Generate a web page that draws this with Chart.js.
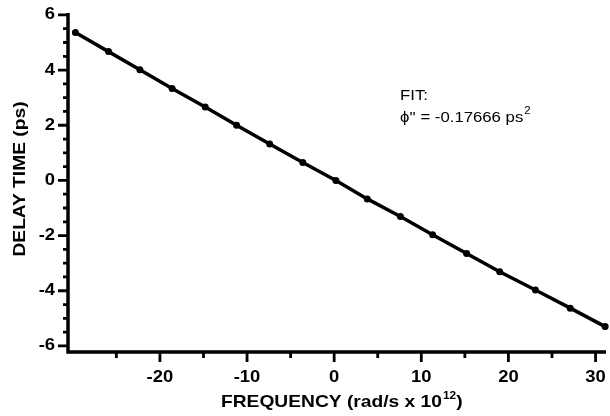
<!DOCTYPE html>
<html>
<head>
<meta charset="utf-8">
<script src="https://cdn.jsdelivr.net/npm/chart.js@4.4.1/dist/chart.umd.min.js"></script>
<style>
  html, body { margin: 0; padding: 0; background: #fff; }
  #wrap { width: 610px; height: 416px; }
</style>
</head>
<body>
<div id="wrap"><canvas id="chart" width="610" height="416"></canvas></div>
<script>
// data
const freq = [-29.7, -25.9, -22.3, -18.6, -14.8, -11.2, -7.4, -3.6, 0.2, 3.8, 7.6, 11.3, 15.2, 19.0, 23.1, 27.1, 31.1];
const delay = [5.36, 4.67, 4.01, 3.33, 2.66, 2.00, 1.32, 0.65, 0.00, -0.67, -1.31, -1.97, -2.65, -3.31, -3.97, -4.63, -5.30];

// ticks
const xMajor = [-20, -10, 0, 10, 20, 30];
const xMinor = [-25, -15, -5, 5, 15, 25];
const yMajor = [-6, -4, -2, 0, 2, 4, 6];
const yMinor = [-5.5, -5, -4.5, -3.5, -3, -2.5, -1.5, -1, -0.5, 0.5, 1, 1.5, 2.5, 3, 3.5, 4.5, 5, 5.5];

// texts
const xTitle = 'FREQUENCY (rad/s x 10';
const xTitleSup = '12';
const yTitle = 'DELAY TIME (ps)';
const fitLine1 = 'FIT:';
const fitLine2 = 'ϕ\'\' = -0.17666 ps';
const fitSup = '2';

const FONT = '"Liberation Sans", Arial, Helvetica, sans-serif';

// text drawn a bit wider, like the original typeset
function stretchText(ctx, txt, x, y, sx) {
    ctx.save();
    ctx.translate(x, y);
    ctx.scale(sx, 1);
    ctx.fillText(txt, 0, 0);
    ctx.restore();
    return ctx.measureText(txt).width * sx;
}

const axesPlugin = {
    id: 'axesPlugin',
    afterDraw(chart) {
        const ctx = chart.ctx;
        const area = chart.chartArea;
        const xs = chart.scales.x;
        const ys = chart.scales.y;
        ctx.save();
        ctx.strokeStyle = '#000';
        ctx.fillStyle = '#000';
        ctx.lineCap = 'butt';

        // axis lines
        ctx.lineWidth = 3.5;
        ctx.beginPath();
        ctx.moveTo(area.left, area.top);
        ctx.lineTo(area.left, area.bottom);
        ctx.lineTo(area.right, area.bottom);
        ctx.stroke();

        // ticks
        ctx.lineWidth = 2.8;
        ctx.beginPath();
        xMajor.forEach(v => { const p = xs.getPixelForValue(v); ctx.moveTo(p, area.bottom); ctx.lineTo(p, area.bottom + 10); });
        xMinor.forEach(v => { const p = xs.getPixelForValue(v); ctx.moveTo(p, area.bottom); ctx.lineTo(p, area.bottom + 6); });
        yMajor.forEach(v => { const p = ys.getPixelForValue(v); ctx.moveTo(area.left, p); ctx.lineTo(area.left - 10, p); });
        yMinor.forEach(v => { const p = ys.getPixelForValue(v); ctx.moveTo(area.left, p); ctx.lineTo(area.left - 5, p); });
        ctx.stroke();

        // tick labels
        ctx.font = 'bold 16px ' + FONT;
        ctx.textBaseline = 'middle';
        ctx.textAlign = 'center';
        xMajor.forEach(v => stretchText(ctx, String(v), xs.getPixelForValue(v), 378, 1.15));
        ctx.textAlign = 'right';
        yMajor.forEach(v => stretchText(ctx, String(v), 55, ys.getPixelForValue(v), 1.15));

        // x title with superscript
        ctx.textAlign = 'left';
        ctx.textBaseline = 'alphabetic';
        ctx.font = 'bold 17px ' + FONT;
        let x = 221;
        x += stretchText(ctx, xTitle, x, 407, 1.13);
        ctx.font = 'bold 10.5px ' + FONT;
        x += stretchText(ctx, xTitleSup, x + 1, 399, 1.13) + 1;
        ctx.font = 'bold 17px ' + FONT;
        stretchText(ctx, ')', x, 407, 1.13);

        // y title rotated
        ctx.save();
        ctx.translate(25, 179);
        ctx.rotate(-Math.PI / 2);
        ctx.textAlign = 'center';
        ctx.font = 'bold 17px ' + FONT;
        stretchText(ctx, yTitle, 0, 0, 1.13);
        ctx.restore();

        // fit annotation
        ctx.textAlign = 'left';
        ctx.font = '15.5px ' + FONT;
        stretchText(ctx, fitLine1, 400, 100, 1.08);
        let w = stretchText(ctx, fitLine2, 400, 122, 1.08);
        ctx.font = '10.5px ' + FONT;
        stretchText(ctx, fitSup, 400 + w + 1, 114, 1.08);

        ctx.restore();
    }
};

new Chart(document.getElementById('chart'), {
    type: 'scatter',
    data: {
        datasets: [{
            data: freq.map((f, i) => ({ x: f, y: delay[i] })),
            showLine: true,
            borderColor: '#000',
            backgroundColor: '#000',
            borderWidth: 3.5,
            pointRadius: 3.5,
            pointBorderWidth: 0,
            clip: false
        }]
    },
    options: {
        responsive: false,
        animation: false,
        layout: { padding: { top: 13, right: 3, left: 0, bottom: 0 } },
        plugins: { legend: { display: false }, tooltip: { enabled: false } },
        scales: {
            x: {
                type: 'linear',
                min: -30.55,
                max: 31.2,
                grid: { display: false },
                border: { display: false },
                ticks: { display: false },
                afterFit(scale) { scale.height = 64; }
            },
            y: {
                type: 'linear',
                min: -6.22,
                max: 6.07,
                grid: { display: false },
                border: { display: false },
                ticks: { display: false },
                afterFit(scale) { scale.width = 68; }
            }
        }
    },
    plugins: [axesPlugin]
});
</script>
</body>
</html>
